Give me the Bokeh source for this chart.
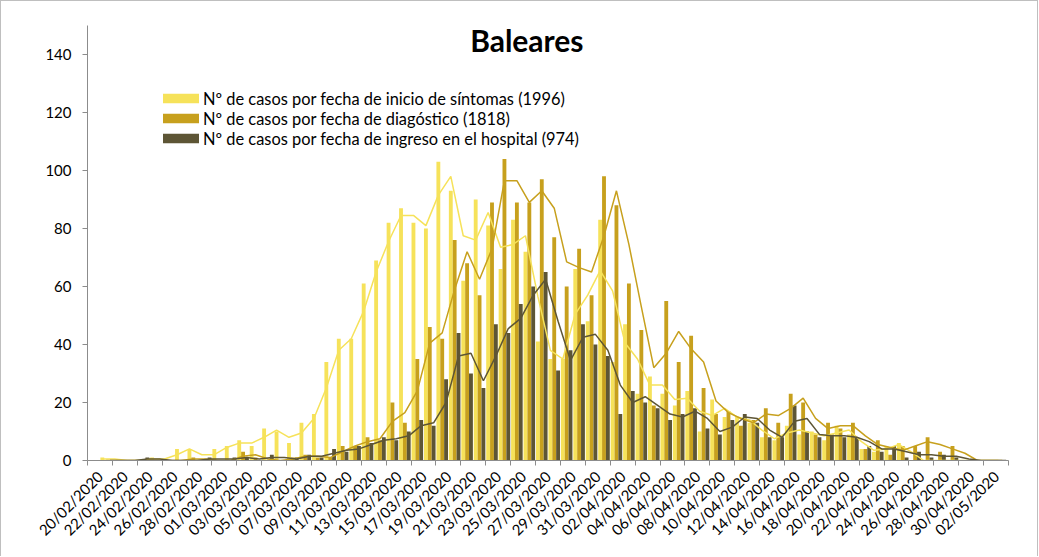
import math
import numpy as np
import pandas as pd
from bokeh.plotting import figure
from bokeh.models import Legend, LegendItem, FixedTicker, Label
from bokeh.embed import file_html
from bokeh.resources import INLINE

# ---------------- data ----------------
days = [
    "20/02/2020", "21/02/2020", "22/02/2020", "23/02/2020", "24/02/2020", "25/02/2020",
    "26/02/2020", "27/02/2020", "28/02/2020", "29/02/2020",
    "01/03/2020", "02/03/2020", "03/03/2020", "04/03/2020", "05/03/2020", "06/03/2020",
    "07/03/2020", "08/03/2020", "09/03/2020", "10/03/2020", "11/03/2020", "12/03/2020",
    "13/03/2020", "14/03/2020", "15/03/2020", "16/03/2020", "17/03/2020", "18/03/2020",
    "19/03/2020", "20/03/2020", "21/03/2020", "22/03/2020", "23/03/2020", "24/03/2020",
    "25/03/2020", "26/03/2020", "27/03/2020", "28/03/2020", "29/03/2020", "30/03/2020",
    "31/03/2020",
    "01/04/2020", "02/04/2020", "03/04/2020", "04/04/2020", "05/04/2020", "06/04/2020",
    "07/04/2020", "08/04/2020", "09/04/2020", "10/04/2020", "11/04/2020", "12/04/2020",
    "13/04/2020", "14/04/2020", "15/04/2020", "16/04/2020", "17/04/2020", "18/04/2020",
    "19/04/2020", "20/04/2020", "21/04/2020", "22/04/2020", "23/04/2020", "24/04/2020",
    "25/04/2020", "26/04/2020", "27/04/2020", "28/04/2020", "29/04/2020", "30/04/2020",
    "01/05/2020", "02/05/2020", "03/05/2020",
]

tick_labels = [
    "20/02/2020", "22/02/2020", "24/02/2020", "26/02/2020", "28/02/2020",
    "01/03/2020", "03/03/2020", "05/03/2020", "07/03/2020", "09/03/2020",
    "11/03/2020", "13/03/2020", "15/03/2020", "17/03/2020", "19/03/2020",
    "21/03/2020", "23/03/2020", "25/03/2020", "27/03/2020", "29/03/2020",
    "31/03/2020", "02/04/2020", "04/04/2020", "06/04/2020", "08/04/2020",
    "10/04/2020", "12/04/2020", "14/04/2020", "16/04/2020", "18/04/2020",
    "20/04/2020", "22/04/2020", "24/04/2020", "26/04/2020", "28/04/2020",
    "30/04/2020", "02/05/2020",
]

# Nº de casos por fecha de inicio de síntomas
sintomas = [
    0, 1, 0, 0, 0, 1, 0, 4, 4, 0,
    4, 5, 7, 5, 11, 10, 6, 13, 16, 34,
    42, 42, 61, 69, 82, 87, 82, 80, 103, 93,
    62, 90, 81, 66, 83, 72, 41, 35, 35, 66,
    48, 83, 34, 47, 23, 29, 23, 19, 24, 10,
    21, 15, 15, 13, 8, 7, 12, 9, 10, 7,
    12, 9, 4, 3, 5, 6, 0, 0, 0, 0,
    0, 0, 0, 0,
]

# Nº de casos por fecha de diagnóstico
diagnostico = [
    0, 0, 0, 0, 0, 0, 0, 0, 1, 0,
    0, 0, 3, 1, 0, 0, 1, 2, 1, 1,
    5, 5, 8, 7, 20, 13, 35, 46, 42, 76,
    68, 57, 89, 104, 89, 89, 97, 77, 60, 73,
    57, 98, 88, 61, 45, 19, 55, 34, 43, 25,
    16, 17, 12, 14, 18, 13, 23, 20, 9, 13,
    11, 13, 4, 7, 2, 5, 5, 8, 3, 5,
    0, 0, 0, 0,
]

# Nº de casos por fecha de ingreso en el hospital
ingreso = [
    0, 0, 0, 0, 1, 0, 0, 0, 0, 1,
    0, 1, 1, 0, 2, 0, 1, 2, 1, 4,
    3, 5, 6, 8, 7, 10, 14, 12, 28, 44,
    30, 25, 47, 44, 54, 60, 65, 31, 38, 47,
    40, 36, 16, 24, 20, 18, 14, 16, 18, 11,
    9, 14, 16, 13, 8, 8, 19, 10, 8, 9,
    8, 8, 5, 3, 5, 1, 3, 1, 2, 1,
    0, 0, 0, 0,
]

legend_labels = [
    "Nº de casos por fecha de inicio de síntomas (1996)",
    "Nº de casos por fecha de diagóstico (1818)",
    "Nº de casos por fecha de ingreso en el hospital (974)",
]
title_text = "Baleares"

# ---------------- style ----------------
FONT = "Lato"
C_YEL = "#F6E25A"
C_GOLD = "#C7A01D"
C_DARK = "#5D5535"
AXIS_C = "#8C8C8C"
BW = 0.31

n = len(days)
idx = np.arange(n)

p = figure(
    width=1038, height=556,
    x_range=(0, n), y_range=(0, 150),
    output_backend="svg", toolbar_location=None,
    min_border_left=87, min_border_right=30,
    min_border_top=25, min_border_bottom=96,
)
p.outline_line_color = None
p.xgrid.visible = False
p.ygrid.visible = False
p.background_fill_color = "white"
p.border_fill_color = "white"
p.border_fill_alpha = 0.0
p.styles = {
    "background-color": "white",
    "box-shadow": "inset 1px 1px 0 0 #BFBFBF, inset -1px 0 0 0 #BFBFBF",
}

series = [
    (sintomas, C_YEL, -BW),
    (diagnostico, C_GOLD, 0.0),
    (ingreso, C_DARK, BW),
]

bar_renderers = []
for vals, col, off in series:
    r = p.vbar(x=idx + 0.5 + off, top=vals, width=BW, fill_color=col, line_color=None)
    bar_renderers.append(r)

# moving-average (period 2) trendlines, as in the source chart
for vals, col, off in series:
    ma = pd.Series(vals, dtype=float).rolling(2).mean()
    xs = (idx + 0.5 + off)[1:]
    p.line(x=xs, y=ma.values[1:], line_color=col, line_width=1.5)

# ---------------- axes ----------------
label_pos = [2 * k + 1 for k in range(len(tick_labels))]
xax = p.xaxis[0]
xax.ticker = FixedTicker(ticks=label_pos, minor_ticks=list(range(0, n + 1, 2)))
xax.major_label_overrides = {pos: lab for pos, lab in zip(label_pos, tick_labels)}
xax.major_label_orientation = math.pi / 4
xax.major_tick_out = 0
xax.major_tick_in = 0
xax.minor_tick_out = 5
xax.minor_tick_in = 0
xax.minor_tick_line_color = AXIS_C
xax.axis_line_color = AXIS_C
xax.major_label_text_font = FONT
xax.major_label_text_font_size = "15px"
xax.major_label_text_color = "#000000"
xax.major_label_standoff = 8

yax = p.yaxis[0]
yax.ticker = FixedTicker(ticks=list(range(0, 141, 20)))
yax.major_tick_out = 5
yax.major_tick_in = 0
yax.minor_tick_out = 0
yax.minor_tick_in = 0
yax.major_tick_line_color = AXIS_C
yax.axis_line_color = AXIS_C
yax.major_label_text_font = FONT
yax.major_label_text_font_size = "15px"
yax.major_label_text_color = "#000000"
yax.major_label_standoff = 11

# ---------------- title ----------------
p.add_layout(Label(
    x=35.3, y=145.0, text=title_text,
    text_font=FONT, text_font_size="30px", text_font_style="bold",
    text_align="center", text_baseline="middle", text_color="#000000",
))

# ---------------- legend ----------------
legend = Legend(
    items=[LegendItem(label=lab, renderers=[r]) for lab, r in zip(legend_labels, bar_renderers)],
    location=(71, 312),
    padding=0, margin=0, spacing=0,
    glyph_width=45, glyph_height=12, label_height=20,
    label_standoff=-1,
    label_text_font=FONT, label_text_font_size="16.4px", label_text_color="#000000",
    border_line_alpha=0, background_fill_alpha=0,
)
p.add_layout(legend, "center")

open("out.html", "w").write(file_html(p, INLINE))
